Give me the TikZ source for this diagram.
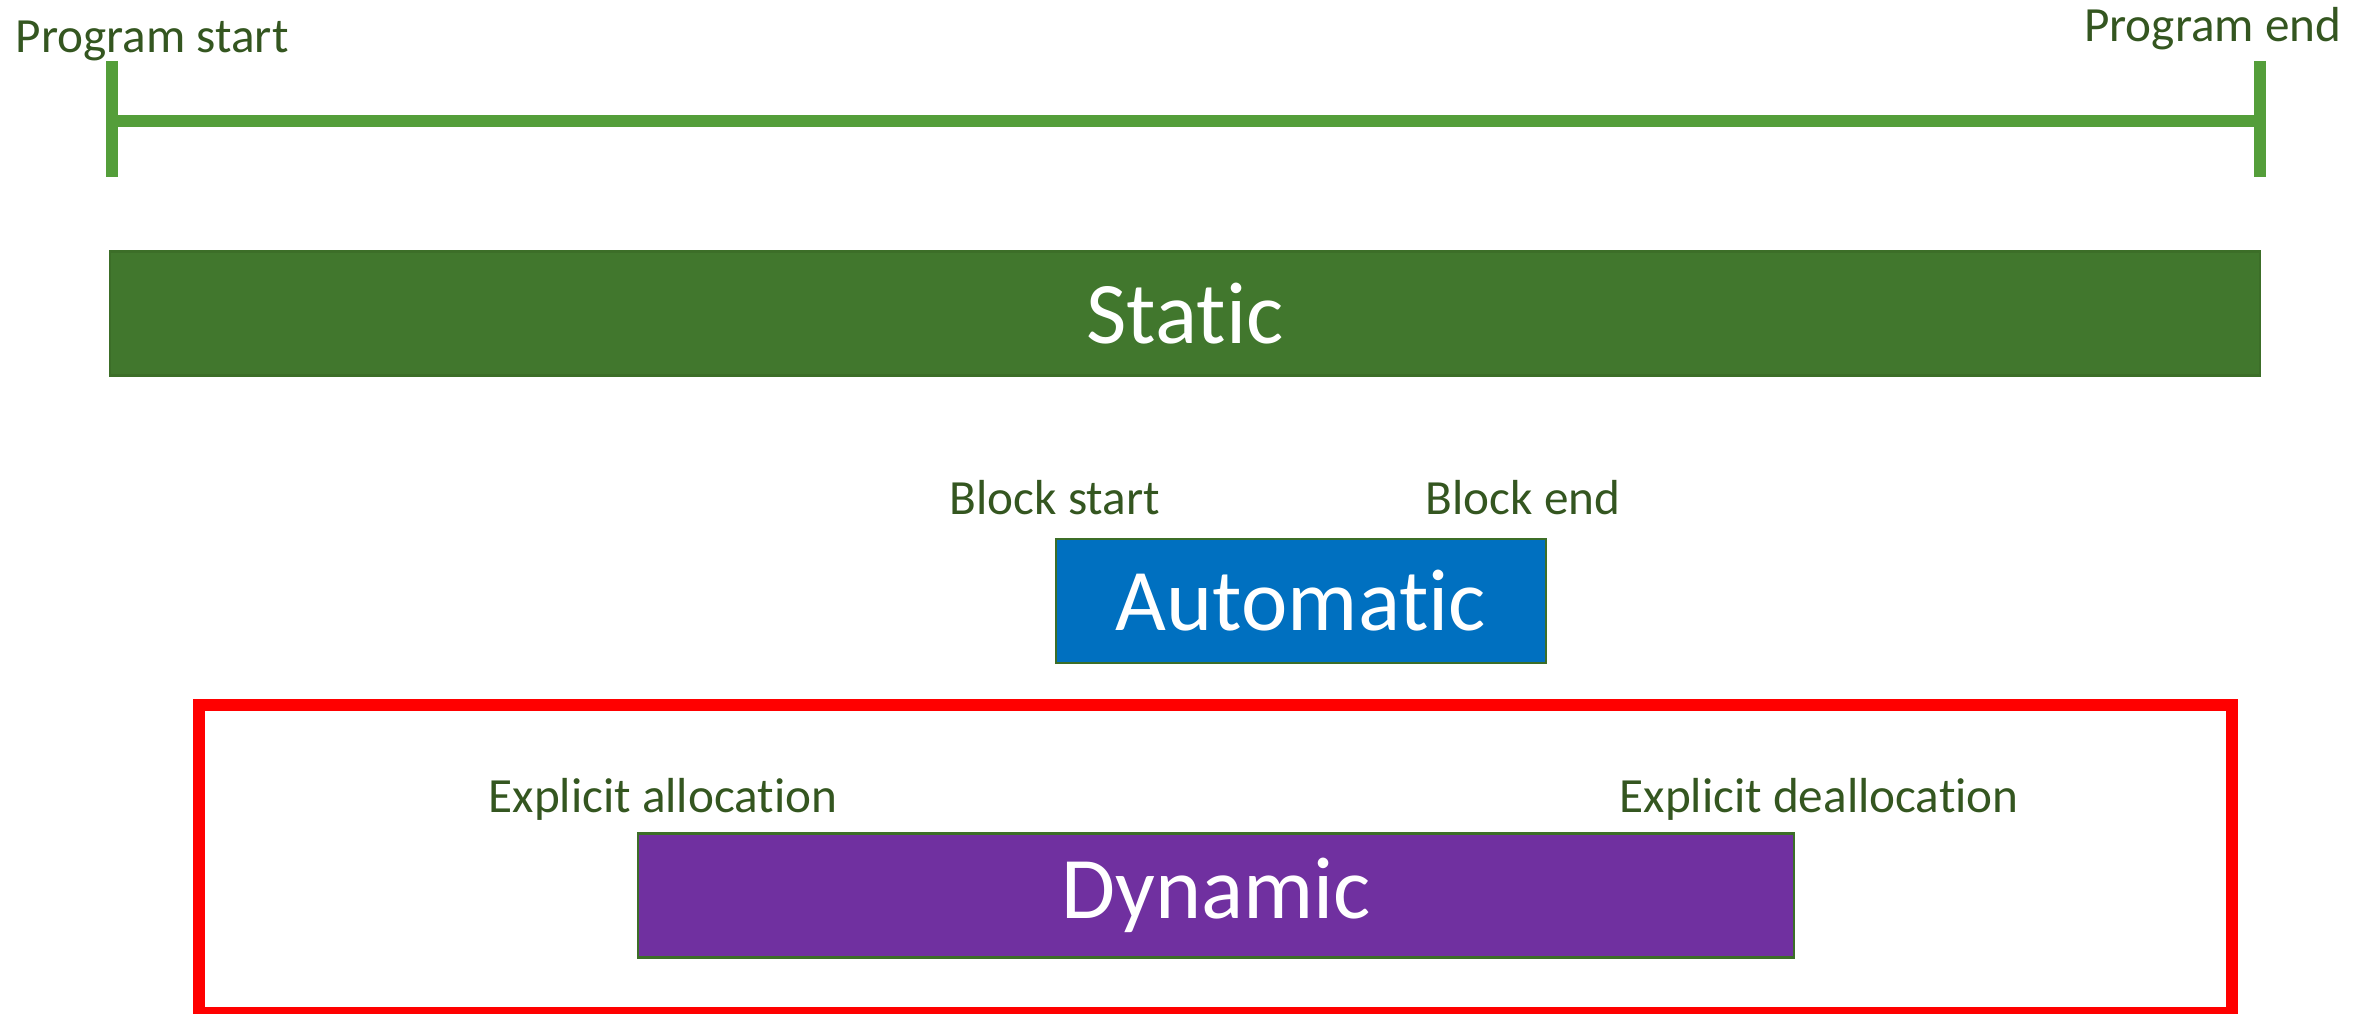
\documentclass[tikz,border=0pt]{standalone}
\usepackage{fontspec}
\setmainfont[Ligatures={NoCommon,NoContextual}]{Carlito}
\definecolor{tlgreen}{RGB}{84,158,58}
\definecolor{txtgreen}{RGB}{52,86,32}
\definecolor{staticfill}{RGB}{65,119,45}
\definecolor{autofill}{RGB}{0,112,192}
\definecolor{dynfill}{RGB}{112,48,160}
\definecolor{barline}{RGB}{60,110,40}
\begin{document}
\begin{tikzpicture}[
                tl/.style = {draw=tlgreen, line width = 1.2mm},
                lbl/.style = {text=txtgreen, inner sep = 0mm, anchor = base west, font = \fontsize{14pt}{16pt}\selectfont},
                bar/.style = {draw=barline, line width = 0.6pt, inner sep = 0mm, minimum height = 12.4mm, text=white, font = \fontsize{25pt}{30pt}\selectfont},
                frame/.style = {draw=red, line width = 1.2mm, inner sep = 0mm},
            ]
            \useasboundingbox (0,0) rectangle (23.74,10.13);

            \coordinate (ps) at (1.12,8.92);
            \coordinate (pe) at (22.60,8.92);
            \path[tl] (ps) -- (pe);
            \path[tl] ([yshift=6mm]ps) -- ([yshift=-5.6mm]ps);
            \path[tl] ([yshift=6mm]pe) -- ([yshift=-5.6mm]pe);
            \node (pstart) [lbl] at (0.15,9.60) {Program start};
            \node (pend) [lbl, anchor=base east] at (23.42,9.71) {Program end};

            \node (static) [bar, fill=staticfill, minimum width = 215mm] at (11.85,6.995) {Static};

            \node (bstart) [lbl] at (9.49,4.98) {Block start};
            \node (bend) [lbl] at (14.25,4.98) {Block end};
            \node (auto) [bar, fill=autofill, minimum width = 49mm] at (13.01,4.12) {Automatic};

            \node (heap) [frame, minimum width = 203.3mm, minimum height = 30.85mm] at (12.155,1.5425) {};
            \node (alloc) [lbl] at (4.88,2.01) {Explicit allocation};
            \node (dealloc) [lbl] at (16.19,2.01) {Explicit deallocation};
            \node (dyn) [bar, fill=dynfill, minimum width = 115.6mm] at (12.16,1.175) {Dynamic};
        \end{tikzpicture}
\end{document}
